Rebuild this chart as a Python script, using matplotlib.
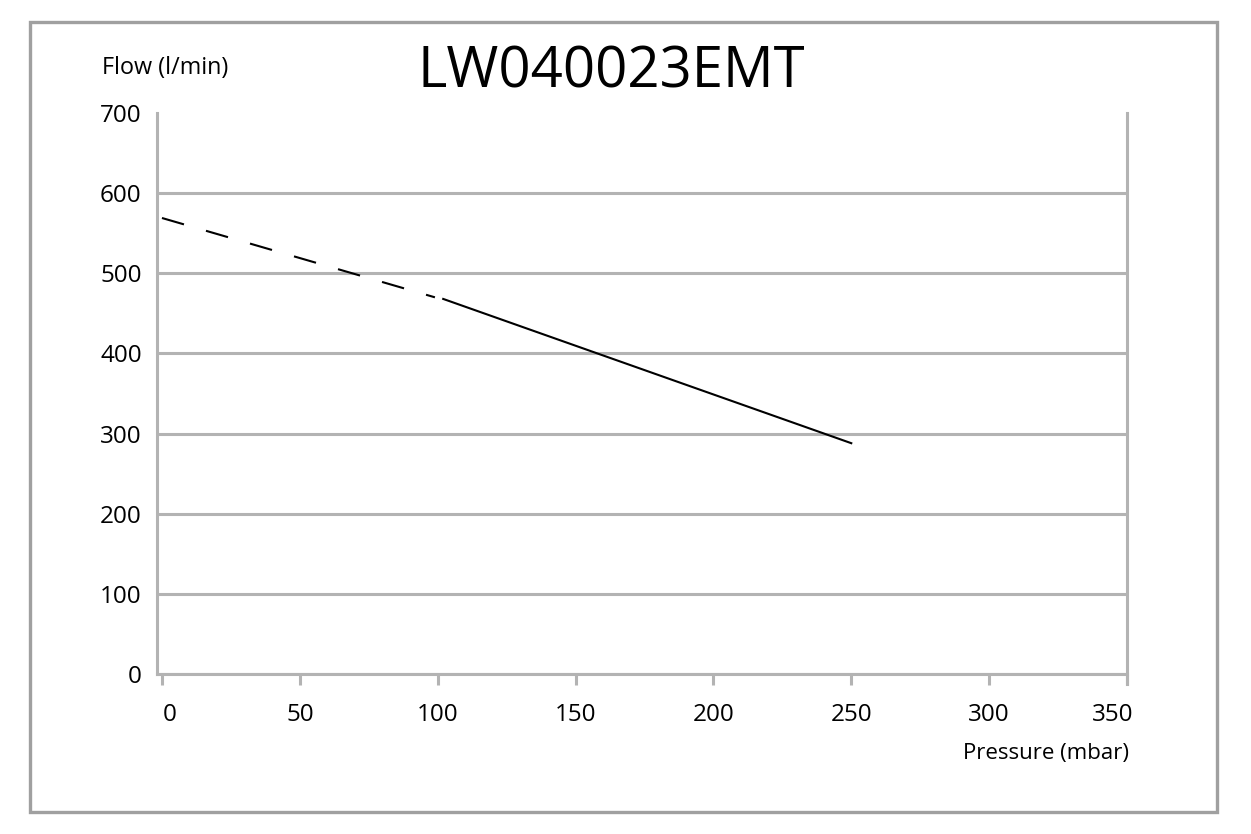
import matplotlib
matplotlib.use("Agg")
import matplotlib.pyplot as plt
import matplotlib.transforms as mtransforms
from matplotlib.patches import Rectangle

plt.rcParams["font.family"] = ["Open Sans", "DejaVu Sans"]

# Kennlinie LW040023EMT
pressure_extrap = [0, 99]
flow_extrap = [569, 470]
pressure_meas = [102, 250]
flow_meas = [468, 288]

x_ticks = [0, 50, 100, 150, 200, 250, 300, 350]
y_ticks = [0, 100, 200, 300, 400, 500, 600, 700]

GRID = "#b3b3b3"
FRAME = "#a0a0a0"

fig = plt.figure(figsize=(12.51, 8.34), dpi=100)
W, H = 1251, 834

# grauer Rahmen um das ganze Bild
fig.patches.append(Rectangle((30 / W, 1 - 812 / H), (1217 - 30) / W, (812 - 22) / H,
                             transform=fig.transFigure, fill=False,
                             edgecolor=FRAME, linewidth=2.4))

ax = fig.add_axes([157 / W, 1 - 674 / H, (1127 - 157) / W, (674 - 113) / H])
ax.set_xlim(-1.8, 350)
ax.set_ylim(0, 700)

ax.plot(pressure_extrap, flow_extrap, color="black", linewidth=1.5, dashes=(11, 11))
ax.plot(pressure_meas, flow_meas, color="black", linewidth=1.5)

ax.set_xticks(x_ticks)
ax.set_yticks(y_ticks)
ax.tick_params(axis="x", length=8, width=2.2, color=GRID, labelsize=17.5, pad=13)
ax.tick_params(axis="y", length=0, labelsize=17.5, pad=11)
labels = ax.get_xticklabels()
for lbl, dx in [(labels[0], 8), (labels[-1], -14)]:
    lbl.set_transform(lbl.get_transform()
                      + mtransforms.ScaledTranslation(dx / 100, 0, fig.dpi_scale_trans))

ax.grid(axis="y", color=GRID, linewidth=2.2)
ax.get_ygridlines()[-1].set_visible(False)
ax.set_axisbelow(True)

ax.spines["top"].set_visible(False)
for s in ["left", "right", "bottom"]:
    ax.spines[s].set_color(GRID)
    ax.spines[s].set_linewidth(2.2)
ax.spines["left"].set_bounds(0, 700)
ax.spines["right"].set_bounds(-12, 700)

fig.text(611 / W, 1 - 88 / H, "LW040023EMT", fontsize=40.5, ha="center", va="baseline")
fig.text(102 / W, 1 - 74 / H, "Flow (l/min)", fontsize=16.8, ha="left", va="baseline")
fig.text(1129 / W, 1 - 759 / H, "Pressure (mbar)", fontsize=16, ha="right", va="baseline")

fig.savefig("out.png", dpi=100)
